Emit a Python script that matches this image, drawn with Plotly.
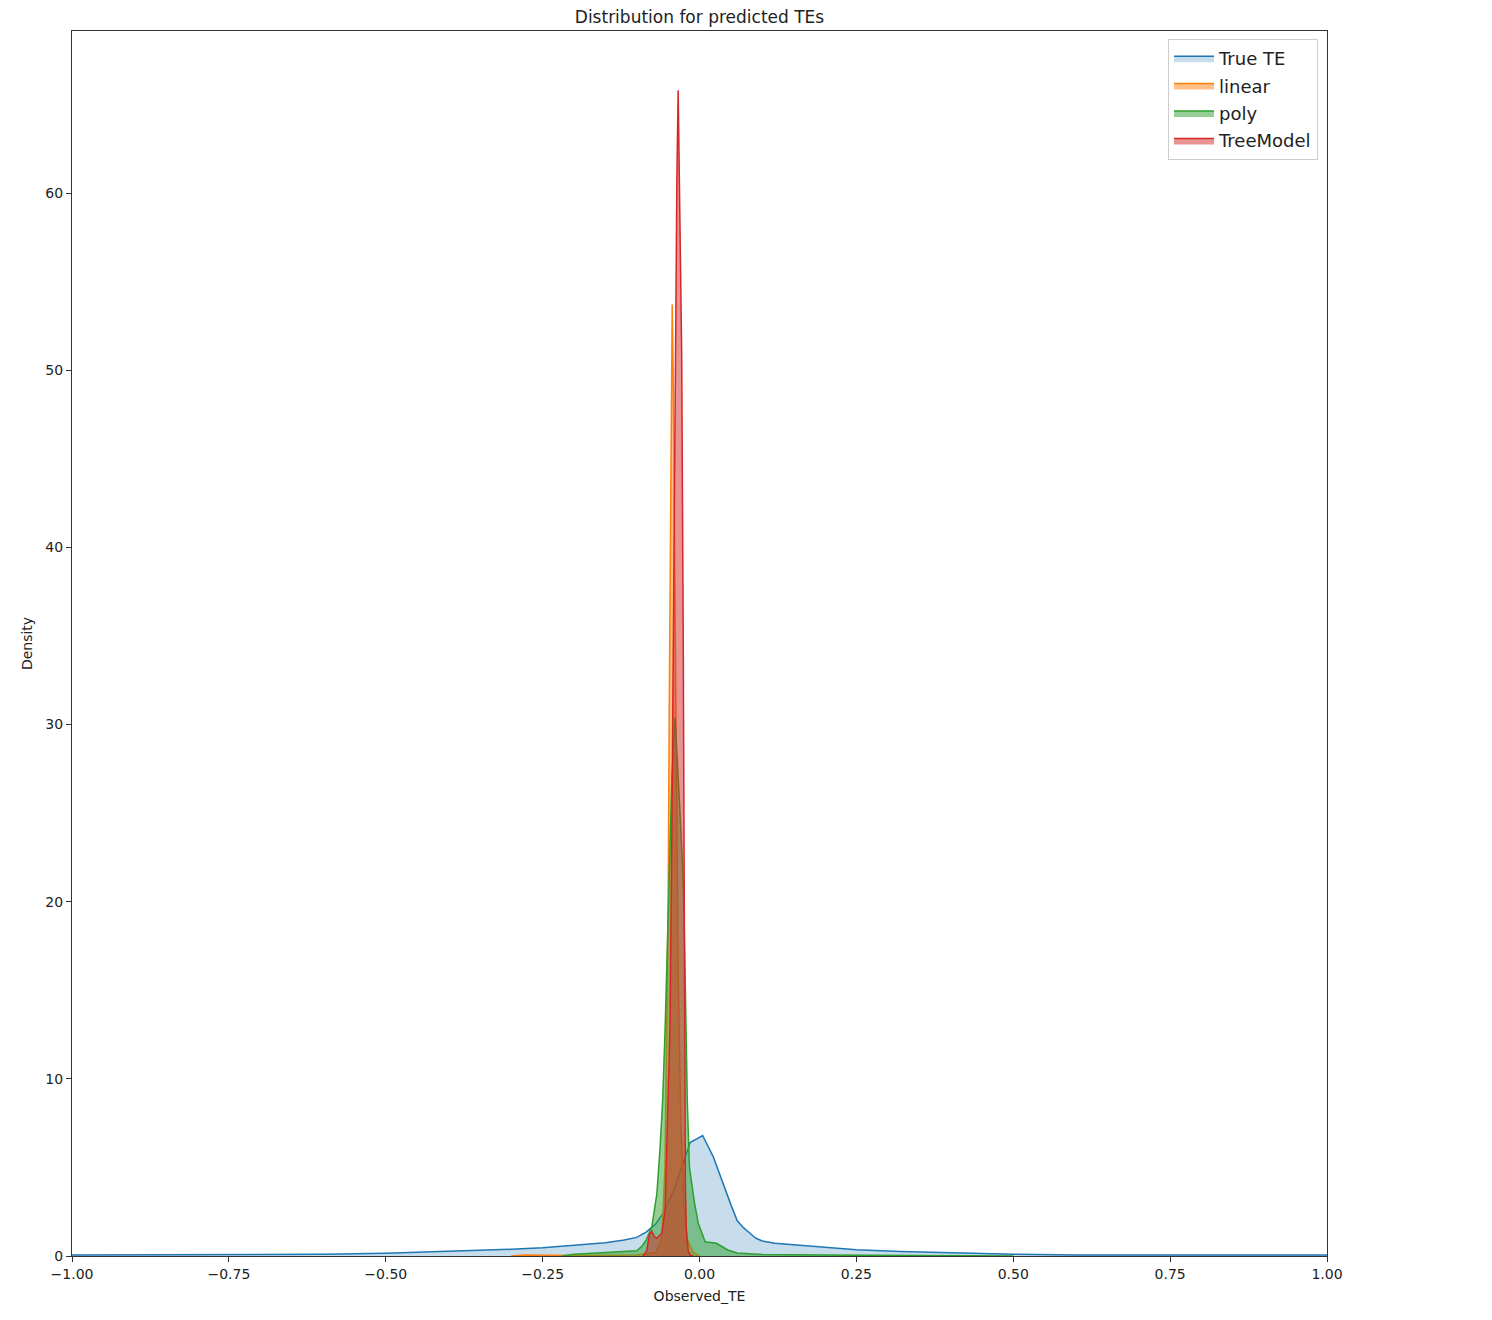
import plotly.graph_objects as go

# ---- data ----
true_te_x = [-1.0, -0.75, -0.6, -0.5, -0.4, -0.3, -0.25, -0.2, -0.15, -0.12, -0.1, -0.085,
             -0.07, -0.058, -0.04, -0.015, 0.005, 0.022, 0.037, 0.05, 0.06, 0.07, 0.08, 0.09,
             0.1, 0.12, 0.16, 0.2, 0.25, 0.32, 0.4, 0.46, 0.5, 0.6, 0.75, 1.0]
true_te_y = [0.05, 0.06, 0.1, 0.15, 0.25, 0.38, 0.47, 0.6, 0.75, 0.9, 1.05, 1.35,
             1.8, 2.4, 3.8, 6.4, 6.8, 5.6, 4.1, 2.9, 2.0, 1.6, 1.3, 1.0,
             0.85, 0.72, 0.6, 0.48, 0.35, 0.25, 0.17, 0.13, 0.1, 0.06, 0.05, 0.05]

linear_x = [-0.30, -0.28, -0.2, -0.1, -0.07, -0.06, -0.055, -0.05, -0.048, -0.046, -0.0435,
            -0.042, -0.040, -0.037, -0.034, -0.03, -0.025, -0.02, -0.01, 0.0]
linear_y = [0.0, 0.05, 0.03, 0.05, 0.2, 1.0, 5.0, 20.0, 32.0, 44.0, 53.7,
            50.0, 40.0, 28.0, 16.0, 8.0, 3.0, 1.0, 0.2, 0.0]

poly_x = [-0.22, -0.2, -0.17, -0.14, -0.12, -0.1, -0.092, -0.085, -0.076, -0.068, -0.063,
          -0.0587, -0.055, -0.0497, -0.044, -0.039, -0.035, -0.031, -0.027, -0.025, -0.021,
          -0.0195, -0.016, -0.008, -0.002, 0.009, 0.02, 0.027, 0.035, 0.045, 0.06, 0.1,
          0.2, 0.3, 0.46, 0.5]
poly_y = [0.0, 0.1, 0.15, 0.2, 0.25, 0.3, 0.55, 0.9, 1.65, 3.5, 6.0,
          8.8, 12.6, 20.0, 27.0, 30.4, 28.0, 25.0, 22.0, 20.0, 12.0,
          8.8, 5.0, 3.0, 1.85, 0.8, 0.75, 0.72, 0.55, 0.34, 0.17, 0.08,
          0.05, 0.04, 0.03, 0.0]

tree_x = [-0.09, -0.084, -0.08, -0.076, -0.072, -0.068, -0.06, -0.055, -0.053, -0.05,
          -0.047, -0.044, -0.0418, -0.039, -0.036, -0.034, -0.0325, -0.031, -0.0284,
          -0.0258, -0.0235, -0.0225, -0.021, -0.018, -0.015, -0.01]
tree_y = [0.0, 0.3, 1.2, 1.4, 1.1, 1.0, 1.3, 2.5, 5.0, 9.0,
          13.0, 24.0, 34.0, 50.0, 61.0, 65.8, 62.0, 57.0, 51.0,
          34.0, 13.0, 4.0, 1.5, 0.3, 0.05, 0.0]

series_names = ["True TE", "linear", "poly", "TreeModel"]
x_tick_vals = [-1.0, -0.75, -0.5, -0.25, 0.0, 0.25, 0.5, 0.75, 1.0]
x_tick_text = ["\u22121.00", "\u22120.75", "\u22120.50", "\u22120.25", "0.00", "0.25", "0.50", "0.75", "1.00"]
y_tick_vals = [0, 10, 20, 30, 40, 50, 60]

# ---- styles ----
line_colors = ["#1f77b4", "#ff7f0e", "#2ca02c", "#d62728"]
fill_colors = ["rgba(31,119,180,0.25)", "rgba(255,127,14,0.5)",
               "rgba(44,160,44,0.5)", "rgba(214,39,40,0.5)"]

xs = [true_te_x, linear_x, poly_x, tree_x]
ys = [true_te_y, linear_y, poly_y, tree_y]

fig = go.Figure()
for name, x, y, lc, fc in zip(series_names, xs, ys, line_colors, fill_colors):
    fig.add_trace(go.Scatter(x=x, y=y, name=name, legendgroup=name, mode="lines",
                             fill="tozeroy", line=dict(color=lc, width=1.5), fillcolor=fc))

W, H = 1492, 1320
OFF = 8  # page body margin
L, R, T, B = 72, 1327, 31, 1256  # target page pixel positions of plot area
font = "DejaVu Sans"

fig.update_layout(
    width=W, height=H,
    margin=dict(l=L - OFF, r=W + OFF - R, t=T - OFF, b=H + OFF - B, pad=0),
    paper_bgcolor="white", plot_bgcolor="white",
    font=dict(family=font, size=14, color="black"),
    title=dict(text="Distribution for predicted TEs", x=0.5, xref="paper",
               xanchor="center", y=1 - (17 - OFF) / H, yanchor="middle",
               font=dict(family=font, size=17, color="#222")),
    showlegend=True,
    legend=dict(x=(1318 - L) / (R - L), xanchor="right",
                y=(B - 39) / (B - T), yanchor="top",
                bgcolor="white", bordercolor="#cccccc", borderwidth=1,
                font=dict(family=font, size=18, color="#222"),
                tracegroupgap=1, itemwidth=40),
)
fig.update_xaxes(range=[-1, 1], tickvals=x_tick_vals, ticktext=x_tick_text,
                 showgrid=False, zeroline=False, showline=True, linecolor="#333",
                 linewidth=1, mirror=True, ticks="outside", ticklen=5, tickcolor="#333",
                 tickfont=dict(size=14, family=font, color="#222"),
                 title=dict(text="Observed_TE", standoff=10,
                            font=dict(size=14, family=font, color="#222")))
fig.update_yaxes(range=[0, (B - T) / ((B - 193) / 60)], tickvals=y_tick_vals,
                 showgrid=False, zeroline=False, showline=True, linecolor="#333",
                 linewidth=1, mirror=True, ticks="outside", ticklen=5, tickcolor="#333",
                 tickfont=dict(size=14, family=font, color="#222"),
                 title=dict(text="Density", standoff=9,
                            font=dict(size=14, family=font, color="#222")))

fig.write_html("out.html")
